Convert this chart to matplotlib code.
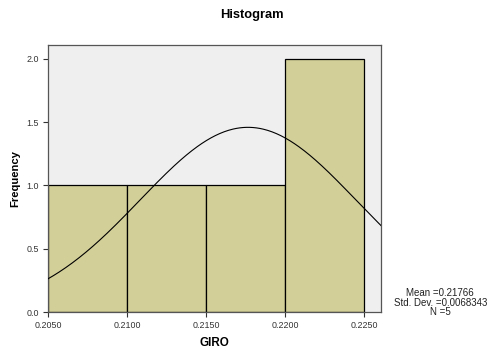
import numpy as np
import matplotlib
matplotlib.use("Agg")
import matplotlib.pyplot as plt

plt.rcParams['font.family'] = ['Liberation Sans', 'DejaVu Sans']

# histogram data
bin_edges = [0.2050, 0.2100, 0.2150, 0.2200, 0.2250]
counts = [1, 1, 1, 2]
mean = 0.21766
sd = 0.0068343
n = 5
xticks = [0.2050, 0.2100, 0.2150, 0.2200, 0.2250]
yticks = [0.0, 0.5, 1.0, 1.5, 2.0]

fig = plt.figure(figsize=(4.92, 3.52), dpi=100)
ax = fig.add_axes([0.0976, 0.1136, 0.6768, 0.7586])
ax.set_facecolor('#efefef')

widths = np.diff(bin_edges)
ax.bar(bin_edges[:-1], counts, width=widths, align='edge',
       color='#d3cf99', edgecolor='black', linewidth=0.9, zorder=2)

# normal curve scaled to counts
xs = np.linspace(0.2050, 0.2261, 300)
bw = widths[0]
ys = n * bw / (sd * np.sqrt(2 * np.pi)) * np.exp(-0.5 * ((xs - mean) / sd) ** 2)
ax.plot(xs, ys, color='black', linewidth=0.8, zorder=3)

ax.set_xlim(0.2050, 0.22608)
ax.set_ylim(0, 2.11)
ax.set_xticks(xticks)
ax.set_xticklabels([f"{v:.4f}" for v in xticks])
ax.set_yticks(yticks)
ax.set_yticklabels([f"{v:.1f}" for v in yticks])
ax.tick_params(labelsize=6.4, length=3.5, width=0.8, colors='#333333', pad=3)
for s in ax.spines.values():
    s.set_color('#555555')
    s.set_linewidth(0.9)

ax.set_xlabel('GIRO', fontsize=8.4, fontweight='bold', labelpad=5)
ax.set_ylabel('Frequency', fontsize=8.1, fontweight='bold')
ax.yaxis.set_label_coords(-0.082, 0.5)
fig.text(0.512, 0.957, 'Histogram', ha='center', va='center',
         fontsize=9.3, fontweight='bold')

fig.text(0.895, 0.14, f"Mean ={mean}\nStd. Dev. ={sd}\nN ={n}",
         ha='center', va='center', fontsize=7, linespacing=0.95, color='#222222')

fig.savefig('out.png', dpi=100)
